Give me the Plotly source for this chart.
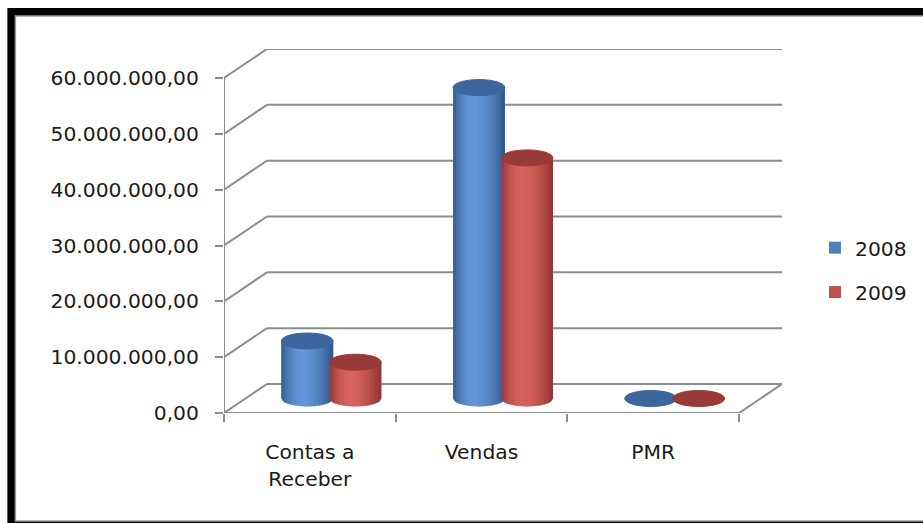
import math
import plotly.graph_objects as go

# ---------------- data ----------------
categories = ["Contas a<br>Receber", "Vendas", "PMR"]
series_names = ["2008", "2009"]
values_2008 = [10_300_000, 55_700_000, 67]
values_2009 = [6_500_000, 43_100_000, 54]
y_ticks = [0, 10_000_000, 20_000_000, 30_000_000, 40_000_000, 50_000_000, 60_000_000]

# ---------------- layout constants ----------------
W, H = 923, 523
ML, MR, MT, MB = 224, 140, 49, 110
PW, PH = W - ML - MR, H - MT - MB
DX = 0.25            # depth offset in category units
DY = 5.2e6           # depth offset in value units
YMAX = y_ticks[-1] + DY
X0, X1 = -0.5, len(categories) - 0.5
GRAY = "#8c8c8c"
FONT = "DejaVu Sans"
FS = 20.3

BAR_HALF = 0.151
BAR_SHIFT = 0.14
ELL_B = 1.43e6       # semi-minor axis of ellipse (value units)

palettes = {
    "2008": dict(dark=(44, 82, 133), light=(98, 150, 214), top="#3c669c", flat="#4F81BD"),
    "2009": dict(dark=(138, 48, 46), light=(214, 98, 94), top="#983a37", flat="#C0504D"),
}


def px_x(p):
    return (p - ML) / PW


def px_y(p):
    return (H - MB - p) / PH


def fmt(v):
    s = f"{v:,.2f}"
    return s.replace(",", "X").replace(".", ",").replace("X", ".")


def shade(t, pal):
    if t <= 0.4:
        u = (t - 0.4) / 0.45
    else:
        u = (t - 0.4) / 0.62
    f = max(0.0, math.cos(max(-1, min(1, u)) * math.pi / 2))
    d, l = pal["dark"], pal["light"]
    c = [round(d[k] + (l[k] - d[k]) * f) for k in range(3)]
    return f"rgb({c[0]},{c[1]},{c[2]})"


shapes = []

# frame
shapes.append(dict(type="rect", xref="paper", yref="paper", layer="below",
                   x0=px_x(7), x1=px_x(960), y0=px_y(560), y1=px_y(8),
                   fillcolor="black", line=dict(width=0)))
shapes.append(dict(type="rect", xref="paper", yref="paper", layer="below",
                   x0=px_x(15), x1=px_x(960), y0=px_y(521), y1=px_y(16),
                   fillcolor="white", line=dict(color="#9a9a9a", width=1.5)))

# back wall gridlines and side diagonals
for v in y_ticks:
    shapes.append(dict(type="line", xref="x", yref="y", layer="below",
                       x0=X0 + DX, x1=X1 + DX, y0=v + DY, y1=v + DY,
                       line=dict(color=GRAY, width=2)))
    shapes.append(dict(type="line", xref="x", yref="y", layer="below",
                       x0=X0, x1=X0 + DX, y0=v, y1=v + DY,
                       line=dict(color=GRAY, width=2)))
# floor right diagonal and front edge, front vertical axis
shapes.append(dict(type="line", xref="x", yref="y", layer="below",
                   x0=X1, x1=X1 + DX, y0=0, y1=DY, line=dict(color=GRAY, width=2)))
shapes.append(dict(type="line", xref="x", yref="y", layer="below",
                   x0=X0, x1=X1, y0=0, y1=0, line=dict(color=GRAY, width=2)))
shapes.append(dict(type="line", xref="x", yref="y", layer="below",
                   x0=X0, x1=X0, y0=0, y1=y_ticks[-1], line=dict(color=GRAY, width=2)))

fig = go.Figure()

series = [("2008", values_2008, -BAR_SHIFT), ("2009", values_2009, BAR_SHIFT)]
for name, vals, shift in series:
    pal = palettes[name]
    xs = [i + DX / 2 + shift for i in range(len(categories))]
    fig.add_trace(go.Bar(
        x=xs, y=vals, base=DY / 2, width=2 * BAR_HALF, name=name,
        marker=dict(color=pal["flat"], line=dict(width=0)),
        legendgroup=name, hoverinfo="skip",
    ))

# cylinder shading (category-major order so later series overlaps earlier)
NSTRIP = 18
for i in range(len(categories)):
    for name, vals, shift in series:
        pal = palettes[name]
        cx = i + DX / 2 + shift
        yb = DY / 2
        yt = DY / 2 + vals[i]

        def arc(x):
            r = max(0.0, 1 - ((x - cx) / BAR_HALF) ** 2)
            return yb - ELL_B * math.sqrt(r)

        for s in range(NSTRIP):
            xa = cx - BAR_HALF + 2 * BAR_HALF * s / NSTRIP
            xb = cx - BAR_HALF + 2 * BAR_HALF * (s + 1) / NSTRIP
            xbe = xb + (0.004 if s < NSTRIP - 1 else 0)
            path = (f"M{xa},{yt} L{xbe},{yt} L{xbe},{arc(min(xbe, cx + BAR_HALF))} "
                    f"L{(xa + xb) / 2},{arc((xa + xb) / 2)} L{xa},{arc(xa)} Z")
            shapes.append(dict(type="path", xref="x", yref="y", layer="above",
                               path=path, fillcolor=shade((s + 0.5) / NSTRIP, pal),
                               line=dict(width=0)))
        shapes.append(dict(type="circle", xref="x", yref="y", layer="above",
                           x0=cx - BAR_HALF, x1=cx + BAR_HALF,
                           y0=yt - ELL_B, y1=yt + ELL_B,
                           fillcolor=pal["top"], line=dict(color=pal["top"], width=1)))

fig.update_layout(
    width=W, height=H,
    margin=dict(l=ML, r=MR, t=MT, b=MB),
    paper_bgcolor="white", plot_bgcolor="rgba(0,0,0,0)",
    barmode="overlay",
    shapes=shapes,
    font=dict(family=FONT, size=FS, color="#1a1a1a"),
    showlegend=True,
    legend=dict(x=px_x(815), y=px_y(228), xanchor="left", yanchor="top",
                traceorder="grouped", tracegroupgap=15,
                font=dict(family=FONT, size=FS, color="#1a1a1a"),
                bgcolor="rgba(0,0,0,0)"),
    xaxis=dict(range=[X0, X1 + DX], tickmode="array",
               tickvals=list(range(len(categories))), ticktext=categories,
               ticks="", showgrid=False, zeroline=False, showline=False,
               ticklabelstandoff=25,
               minor=dict(ticks="outside", tick0=-0.5, dtick=1, ticklen=8,
                          tickcolor=GRAY, tickwidth=2, showgrid=False),
               fixedrange=True),
    yaxis=dict(range=[0, YMAX], tickmode="array", tickvals=y_ticks,
               ticktext=[fmt(v) for v in y_ticks],
               ticks="outside", ticklen=8, tickcolor=GRAY, tickwidth=2,
               ticklabelstandoff=12,
               showgrid=False, zeroline=False, showline=False, fixedrange=True),
)

fig.write_html("out.html")
